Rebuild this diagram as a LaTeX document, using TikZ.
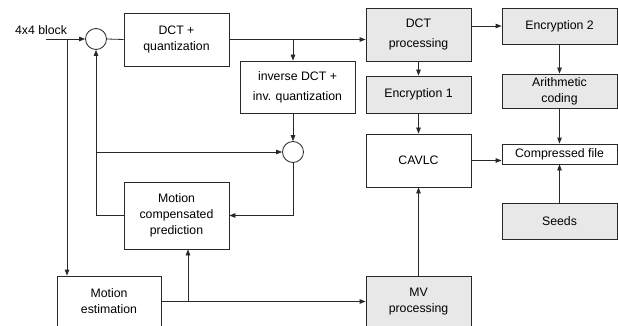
\documentclass[tikz,border=0pt]{standalone}
\usepackage{fontspec}
\setmainfont{Liberation Sans}
\usepackage{xcolor}
\usepackage{tikz}
\usetikzlibrary{positioning,calc,arrows.meta}
\definecolor{LineGray}{RGB}{40,40,40}
\definecolor{BoxGray}{RGB}{232,232,232}
\tikzset{
    block/.style={rectangle, draw=LineGray, line width=0.8pt, fill=white, align=center, inner sep=0pt, font=\fontsize{12.3}{16}\selectfont},
    grayblock/.style={block, fill=BoxGray},
    link/.style={draw=LineGray, line width=0.8pt, -{Triangle[length=6pt,width=4.5pt]}}
}
\begin{document}
\begin{tikzpicture}[
                x=1pt, y=-1pt,
                % summing junctions
                sumnode/.style={
                    circle,
                    draw=LineGray,
                    line width=0.8pt,
                    fill=white,
                    minimum size=21pt,
                    inner sep=0pt
                },
                % plain connector without tip
                wire/.style={
                    draw=LineGray,
                    line width=0.8pt
                }
            ]
                \useasboundingbox (0,0) rectangle (618,326);
                \clip (0,0) rectangle (618,326);

                % --- LEFT PART ---
                \node[font=\fontsize{12.3}{16}\selectfont] (lbl) at (41,30) {4x4 block};
                \coordinate (in) at (46,39);
                \node[sumnode] (sumA) at (96,39) {};
                \node[block, minimum width=105pt, minimum height=53pt] (dct) at (176.5,39.5) {DCT +\\quantization};
                \node[block, minimum width=115pt, minimum height=52pt] (idct) at (297.5,87) {inverse DCT +\\[4pt]inv. quantization};
                \node[sumnode] (sumB) at (293,152) {};
                \node[block, minimum width=105pt, minimum height=67pt] (mcp) at (176.5,215.5) {Motion\\compensated\\prediction};
                \node[block, minimum width=104pt, minimum height=51pt] (me) at (109,301.5) {Motion\\estimation};

                % --- MIDDLE PART ---
                \node[grayblock, minimum width=105pt, minimum height=53pt] (dctp) at (418.5,34.5) {DCT\\[4pt]processing};
                \node[grayblock, minimum width=105pt, minimum height=37pt] (enc1) at (418.5,94.5) {Encryption 1};
                \node[block, minimum width=105pt, minimum height=53pt] (cavlc) at (418.5,160.5) {CAVLC};
                \node[grayblock, minimum width=105pt, minimum height=51pt] (mvp) at (418.5,301.5) {MV\\processing};

                % --- RIGHT PART ---
                \node[grayblock, minimum width=115pt, minimum height=36pt] (enc2) at (559.5,26) {Encryption 2};
                \node[grayblock, minimum width=115pt, minimum height=34pt] (arith) at (559.5,91) {Arithmetic\\coding};
                \node[block, minimum width=115pt, minimum height=20pt] (cfile) at (559.5,154) {Compressed file};
                \node[grayblock, minimum width=115pt, minimum height=36pt] (seeds) at (559.5,221) {Seeds};

                % --- CONNECTORS ---
                \coordinate (tapIn) at (67,39);
                \coordinate (tapD) at (sumB |- dct.east);
                \coordinate (tapM) at (188,301.5);
                \draw[link] (in) -- (sumA.west);
                \draw[link] (tapIn) -- (tapIn |- me.north);
                \draw[wire] (sumA.east) -- (dct.west);
                \draw[link] (dct.east) -- (dct.east -| dctp.west);
                \draw[link] (tapD) -- (tapD |- idct.north);
                \draw[link] (tapD |- idct.south) -- (sumB.north);
                \draw[link] (sumB.south) |- (mcp.east);
                \draw[link] (mcp.west) -| (sumA.south);
                \draw[link] (sumA |- sumB) -- (sumB.west);
                \draw[link] (me.east) -- (mvp.west);
                \draw[link] (tapM) -- (tapM |- mcp.south);
                \draw[link] (mvp.north) -- (cavlc.south);
                \draw[link] (dctp.south) -- (enc1.north);
                \draw[link] (enc1.south) -- (cavlc.north);
                \draw[link] (enc2.west -| dctp.east) -- (enc2.west);
                \draw[link] (enc2.south) -- (arith.north);
                \draw[link] (arith.south) -- (cfile.north);
                \draw[link] (seeds.north) -- (cfile.south);
                \draw[link] (cavlc.east) -- (cavlc.east -| cfile.west);

            \end{tikzpicture}
\end{document}
